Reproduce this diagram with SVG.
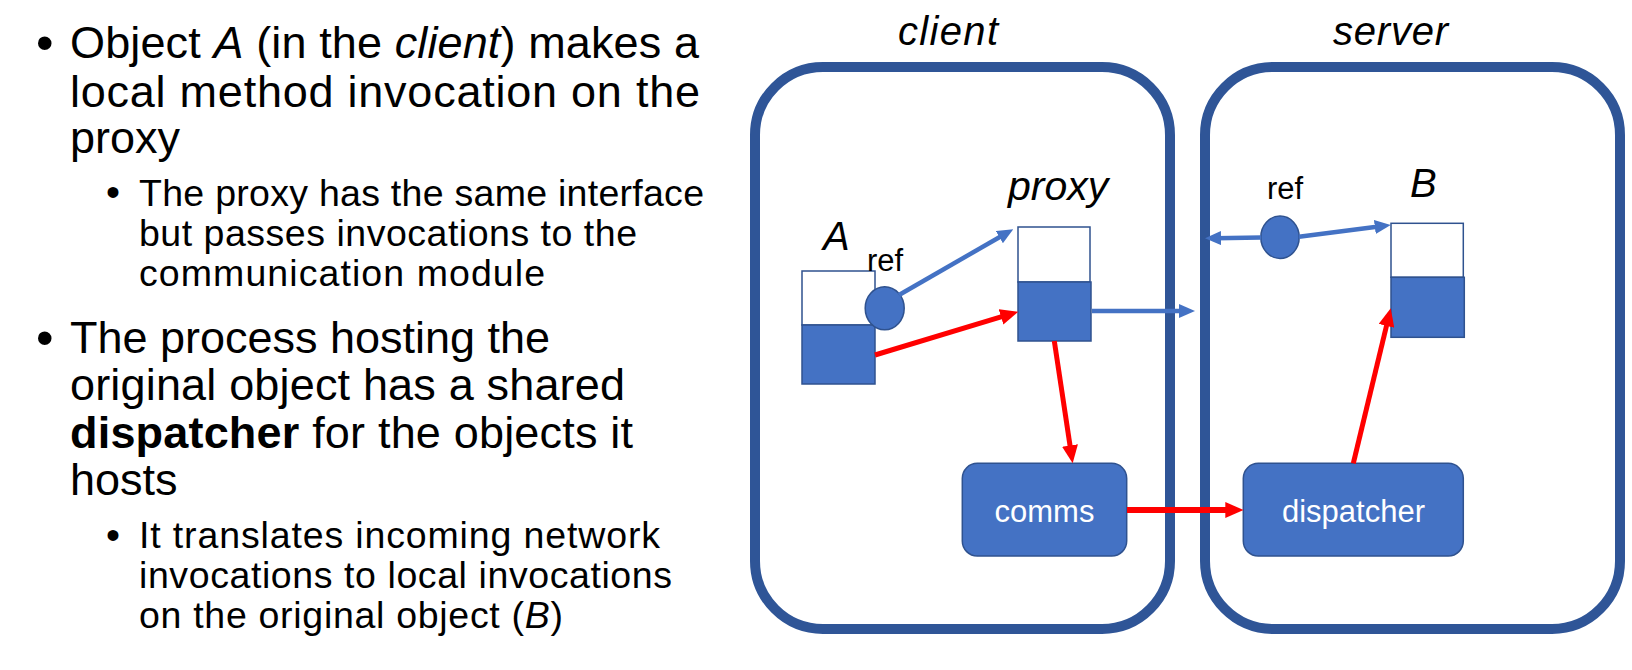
<svg xmlns="http://www.w3.org/2000/svg" width="1632" height="670" viewBox="0 0 1632 670">
<defs>
<style>
.t{font-family:"Liberation Sans",Arial,sans-serif;fill:#000}
.m{font-size:45px}
.s{font-size:37.5px}
.bm{font-size:50px}
.bs{font-size:40px}
.i{font-style:italic}
.b{font-weight:bold}
.hd{font-size:40px;font-style:italic}
.proc{fill:none;stroke:#2F5597;stroke-width:10}
.obj{fill:#4472C4;stroke:#2F528F;stroke-width:1.5}
.objw{fill:#fff;stroke:#2F528F;stroke-width:1.5}
.ref{font-size:31px}
.wl{font-family:"Liberation Sans",Arial,sans-serif;font-size:31px;fill:#fff;text-anchor:middle}
.ab{stroke:#4472C4;stroke-width:4.5;fill:none;marker-end:url(#hb)}
.ar{stroke:#FF0000;stroke-width:5;fill:none;marker-end:url(#hr)}
</style>
<marker id="hb" markerUnits="userSpaceOnUse" markerWidth="16" markerHeight="14" refX="6" refY="7" orient="auto"><path d="M0,0 L16,7 L0,14 z" fill="#4472C4"/></marker>
<marker id="hr" markerUnits="userSpaceOnUse" markerWidth="18" markerHeight="16" refX="6" refY="8" orient="auto"><path d="M0,0 L18,8 L0,16 z" fill="#FF0000"/></marker>
</defs>
<rect x="0" y="0" width="1632" height="670" fill="#fff"/>

<g id="bullets-text" class="t">
<text class="bm" x="36" y="59.7">•</text>
<text class="m" x="70" y="58.3" textLength="629">Object <tspan class="i">A</tspan> (in the <tspan class="i">client</tspan>) makes a</text>
<text class="m" x="70" y="106.7" textLength="630">local method invocation on the</text>
<text class="m" x="70" y="153.3">proxy</text>
<text class="bs" x="106" y="206">•</text>
<text class="s" x="139" y="206" textLength="565">The proxy has the same interface</text>
<text class="s" x="139" y="246" textLength="498">but passes invocations to the</text>
<text class="s" x="139" y="286" textLength="406">communication module</text>
<text class="bm" x="36" y="354.7">•</text>
<text class="m" x="70" y="352.7" textLength="480">The process hosting the</text>
<text class="m" x="70" y="400" textLength="555">original object has a shared</text>
<text class="m" x="70" y="448.3" textLength="563"><tspan class="b">dispatcher</tspan> for the objects it</text>
<text class="m" x="70" y="495">hosts</text>
<text class="bs" x="106" y="549.4">•</text>
<text class="s" x="139" y="548.3" textLength="521">It translates incoming network</text>
<text class="s" x="139" y="588.3" textLength="533">invocations to local invocations</text>
<text class="s" x="139" y="628.3" textLength="424">on the original object (<tspan class="i">B</tspan>)</text>
</g>

<g id="client">
<rect class="proc" x="755" y="67" width="415" height="562" rx="68"/>
<text class="t hd" x="898" y="45" textLength="100">client</text>
</g>
<g id="server">
<rect class="proc" x="1205" y="67" width="415" height="562" rx="68"/>
<text class="t hd" x="1333" y="45" textLength="115">server</text>
</g>

<g id="objA">
<text class="t hd" x="823" y="250">A</text>
<rect class="objw" x="802" y="271" width="73" height="54"/>
<rect class="obj" x="802" y="325" width="73" height="59"/>
</g>
<g id="refA">
<ellipse class="obj" cx="884.7" cy="308.3" rx="19.5" ry="21.5"/>
<text class="t ref" x="867" y="270.7">ref</text>
</g>
<g id="proxy">
<text class="t hd" x="1008" y="200" style="font-size:41px">proxy</text>
<rect class="objw" x="1018" y="227" width="72" height="55"/>
<rect class="obj" x="1018" y="282" width="73" height="59"/>
</g>
<g id="comms">
<rect class="obj" x="962.3" y="463.3" width="164.4" height="92.7" rx="15"/>
<text class="wl" x="1044.5" y="521.7">comms</text>
</g>
<g id="refB">
<ellipse class="obj" cx="1280" cy="237.3" rx="19.2" ry="21.2"/>
<text class="t ref" x="1267" y="199.3">ref</text>
</g>
<g id="objB">
<text class="t hd" x="1410" y="196.7">B</text>
<rect class="objw" x="1391" y="223.3" width="72.3" height="54"/>
<rect class="obj" x="1391" y="277.3" width="73.3" height="60"/>
</g>
<g id="dispatcher">
<rect class="obj" x="1243.3" y="463.3" width="220" height="92.7" rx="15"/>
<text class="wl" x="1353.5" y="521.7">dispatcher</text>
</g>

<g id="connectors">
<path class="ab" d="M899,295 L1004.6,234.2"/>
<path class="ab" d="M1092,311 L1185,311"/>
<path class="ab" d="M1261,237.6 L1215,238.2"/>
<path class="ab" d="M1299,236.7 L1380.8,226.3"/>
<path class="ar" d="M875,355 L1006.8,315.2"/>
<path class="ar" d="M1054.3,341 L1070.9,451.4"/>
<path class="ar" style="stroke-width:6" d="M1127,510 L1231.3,510"/>
<path class="ar" d="M1353.3,463.3 L1387.9,320"/>
</g>
</svg>
